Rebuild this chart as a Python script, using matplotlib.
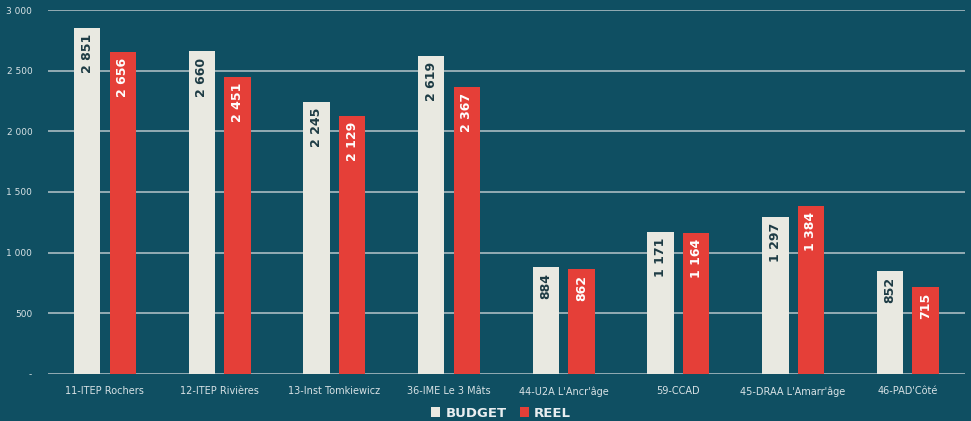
import matplotlib.pyplot as plt
import numpy as np
from matplotlib.ticker import FuncFormatter

categories = ["11-ITEP Rochers", "12-ITEP Rivières", "13-Inst Tomkiewicz", "36-IME Le 3 Mâts",
              "44-U2A L'Ancr'âge", "59-CCAD", "45-DRAA L'Amarr'âge", "46-PAD'Côté"]
budget = [2851, 2660, 2245, 2619, 884, 1171, 1297, 852]
reel = [2656, 2451, 2129, 2367, 862, 1164, 1384, 715]

BG = '#0f4f62'
C_BUDGET = '#e9e9e1'
C_REEL = '#e53f38'


def fmt(v, pos=None):
    if v == 0:
        return '-'
    return '{:,}'.format(int(v)).replace(',', ' ')


fig = plt.figure(figsize=(9.71, 4.21), dpi=100, facecolor=BG)
ax = fig.add_axes([0.049, 0.112, 0.945, 0.864])
ax.set_facecolor(BG)

x = np.arange(len(categories))
w = 0.23
off = 0.155
b1 = ax.bar(x - off, budget, w, color=C_BUDGET, zorder=3, label='BUDGET')
b2 = ax.bar(x + off, reel, w, color=C_REEL, zorder=3, label='REEL')

for rect, v in zip(b1, budget):
    ax.text(rect.get_x() + rect.get_width() / 2, v - 50, fmt(v), rotation=90,
            ha='center', va='top', color='#1d3b44', fontsize=9, fontweight='bold', zorder=4)
for rect, v in zip(b2, reel):
    ax.text(rect.get_x() + rect.get_width() / 2, v - 50, fmt(v), rotation=90,
            ha='center', va='top', color='white', fontsize=9, fontweight='bold', zorder=4)

ax.set_ylim(0, 3000)
ax.set_xlim(-0.5, len(categories) - 0.5)
ax.set_yticks(range(0, 3001, 500))
ax.yaxis.set_major_formatter(FuncFormatter(fmt))
ax.set_xticks(x)
ax.set_xticklabels(categories)
ax.tick_params(axis='both', length=0, colors='#d8e2e5', labelsize=7)
ax.tick_params(axis='x', pad=9)
ax.tick_params(axis='y', pad=11, labelsize=6.5)
ax.grid(axis='y', color='#a9bcc2', linewidth=1.2, zorder=1)
for s in ax.spines.values():
    s.set_visible(False)

leg = fig.legend(handles=[b1, b2], labels=['BUDGET', 'REEL'], loc='lower center',
                 bbox_to_anchor=(0.516, -0.025), ncol=2, frameon=False, handlelength=0.7,
                 handleheight=0.7, handletextpad=0.4, columnspacing=1.0,
                 prop={'weight': 'bold', 'size': 9.5})
for t in leg.get_texts():
    t.set_color('#e9eef0')

fig.savefig('out.png', dpi=100, facecolor=BG)
